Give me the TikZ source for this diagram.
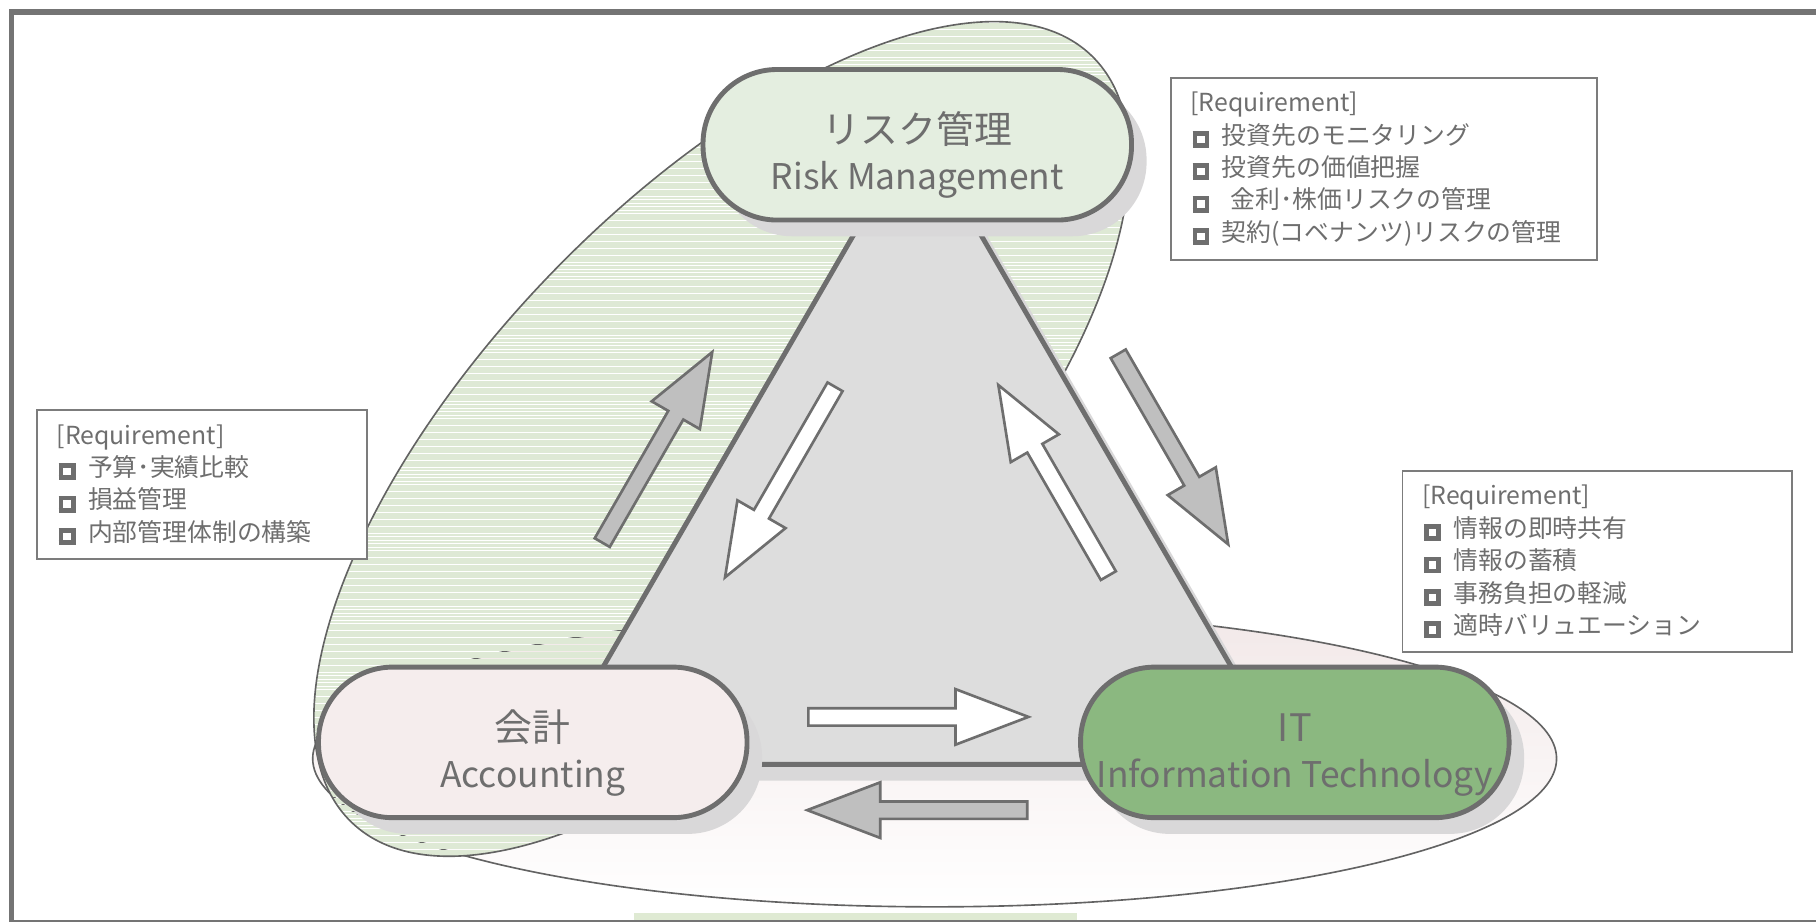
\documentclass[tikz,border=0pt]{standalone}
\usepackage{fontspec}
\setmainfont{Noto Sans CJK JP}
\usepackage{xcolor}
\usepackage{tikz}
\usetikzlibrary{shadows}

\definecolor{linegray}{HTML}{6E6E6E}
\definecolor{framegray}{HTML}{747474}
\definecolor{reqgray}{HTML}{7C7C7C}
\definecolor{trifill}{HTML}{DDDDDD}
\definecolor{shadowgray}{HTML}{D9D8D9}
\definecolor{riskgreen}{HTML}{E4EEE0}
\definecolor{acctpink}{HTML}{F5EDED}
\definecolor{itgreen}{HTML}{8BB880}
\definecolor{arrowgray}{HTML}{BFBFBF}
\definecolor{hatchgreen}{HTML}{DEE9D5}
\definecolor{ovalpink}{HTML}{F2E8E8}
\definecolor{bandgreen}{HTML}{DFEAD3}

\tikzset{
    areabox/.style={rectangle, rounded corners=6.4mm, draw=linegray, line width=1.2pt,
        minimum width=37mm, minimum height=13mm, inner xsep=0pt, text=linegray, align=center,
        font=\fontsize{9.3}{11.3}\selectfont,
        drop shadow={shadow xshift=1.3mm, shadow yshift=-1.4mm, fill=shadowgray, opacity=1}},
    reqbox/.style={draw=reqgray, line width=0.45pt, fill=white, text=linegray, align=left,
        inner xsep=1.7mm, font=\fontsize{6.1}{7.97}\selectfont},
    flow/.style={draw=linegray, line width=0.65pt, line join=miter},
    ovalline/.style={draw=linegray!90!black, line width=0.4pt}
}

% block arrow: fill, tail, angle, length
\newcommand{\blockarrow}[4]{%
    \begin{scope}[shift={#2}, rotate=#3]
        \draw[flow, fill=#1] (0,-7.5) -- ({#4-63},-7.5) -- ({#4-63},-24) -- (#4,0)
            -- ({#4-63},24) -- ({#4-63},7.5) -- (0,7.5) -- cycle;
    \end{scope}}
\newcommand{\latinsize}{\fontsize{8.7}{11.3}\selectfont}
\newcommand{\topstrut}{\rule{0pt}{1.4em}}
\newcommand{\reqmark}{\hspace{0.08em}\raisebox{0.04em}{\fboxsep=0pt\fboxrule=0.19em\fbox{\rule{0pt}{0.3em}\rule{0.3em}{0pt}}}\hspace{0.5em}}

\begin{document}
\begin{tikzpicture}[x=0.1mm, y=-0.1mm]
    \useasboundingbox (0,0) rectangle (1568,796);
    \fill[bandgreen] (547,788) rectangle (930,796);
    % the two ovals
    \draw[ovalline, top color=ovalpink, bottom color=white] (807,655) ellipse [x radius=537, y radius=128];
    \begin{scope}
        \clip[rotate around={46:(623,379)}] (623,379) ellipse [x radius=460, y radius=205];
        \foreach \yy in {12,15,...,750}
            \draw[hatchgreen, line width=0.7pt] (250,\yy) -- (1000,\yy);
    \end{scope}
    \draw[ovalline, rotate around={46:(623,379)}] (623,379) ellipse [x radius=460, y radius=205];
    % triangle
    \coordinate (tri-top) at (792,108);
    \coordinate (tri-left) at (472,660);
    \coordinate (tri-right) at (1112,660);
    \draw[draw=linegray, fill=trifill, line width=1.2pt,
        drop shadow={shadow xshift=1.3mm, shadow yshift=-1.4mm, fill=shadowgray, opacity=1}]
        (tri-top) -- (tri-left) -- (tri-right) -- cycle;
    % areas
    \node[areabox, fill=riskgreen] (risk) at (792,125) {\topstrut リスク管理\\{\latinsize Risk Management}};
    \node[areabox, fill=acctpink] (acct) at (460,641) {\topstrut 会計\\{\latinsize Accounting}};
    \node[areabox, fill=itgreen] (it) at (1118,641) {\topstrut IT\\{\latinsize Information Technology}};
    % flows
    \blockarrow{arrowgray}{(520,468.5)}{60}{190}
    \blockarrow{white}{(721,334)}{240}{190}
    \blockarrow{white}{(957,497)}{120}{190}
    \blockarrow{arrowgray}{(965.5,305.5)}{-60}{190}
    \blockarrow{white}{(698,619)}{0}{190}
    \blockarrow{arrowgray}{(887,699.5)}{180}{190}
    % requirements
    \node[reqbox, text width=33.4mm, minimum height=15.6mm] (req-risk) at (1195,146)
        {[Requirement]\\\reqmark 投資先のモニタリング\\\reqmark 投資先の価値把握\\\reqmark\hspace{0.35em}金利･株価リスクの管理\\\reqmark 契約(コベナンツ)リスクの管理};
    \node[reqbox, text width=25.1mm, minimum height=12.9mm] (req-acct) at (174.5,418.5)
        {[Requirement]\\\reqmark 予算･実績比較\\\reqmark 損益管理\\\reqmark 内部管理体制の構築};
    \node[reqbox, text width=30.2mm, minimum height=15.6mm] (req-it) at (1379,485)
        {[Requirement]\\\reqmark 情報の即時共有\\\reqmark 情報の蓄積\\\reqmark 事務負担の軽減\\\reqmark 適時バリュエーション};
    % frame
    \draw[framegray, line width=1.4pt] (10,10.5) rectangle (1600,796.5);
\end{tikzpicture}
\end{document}
